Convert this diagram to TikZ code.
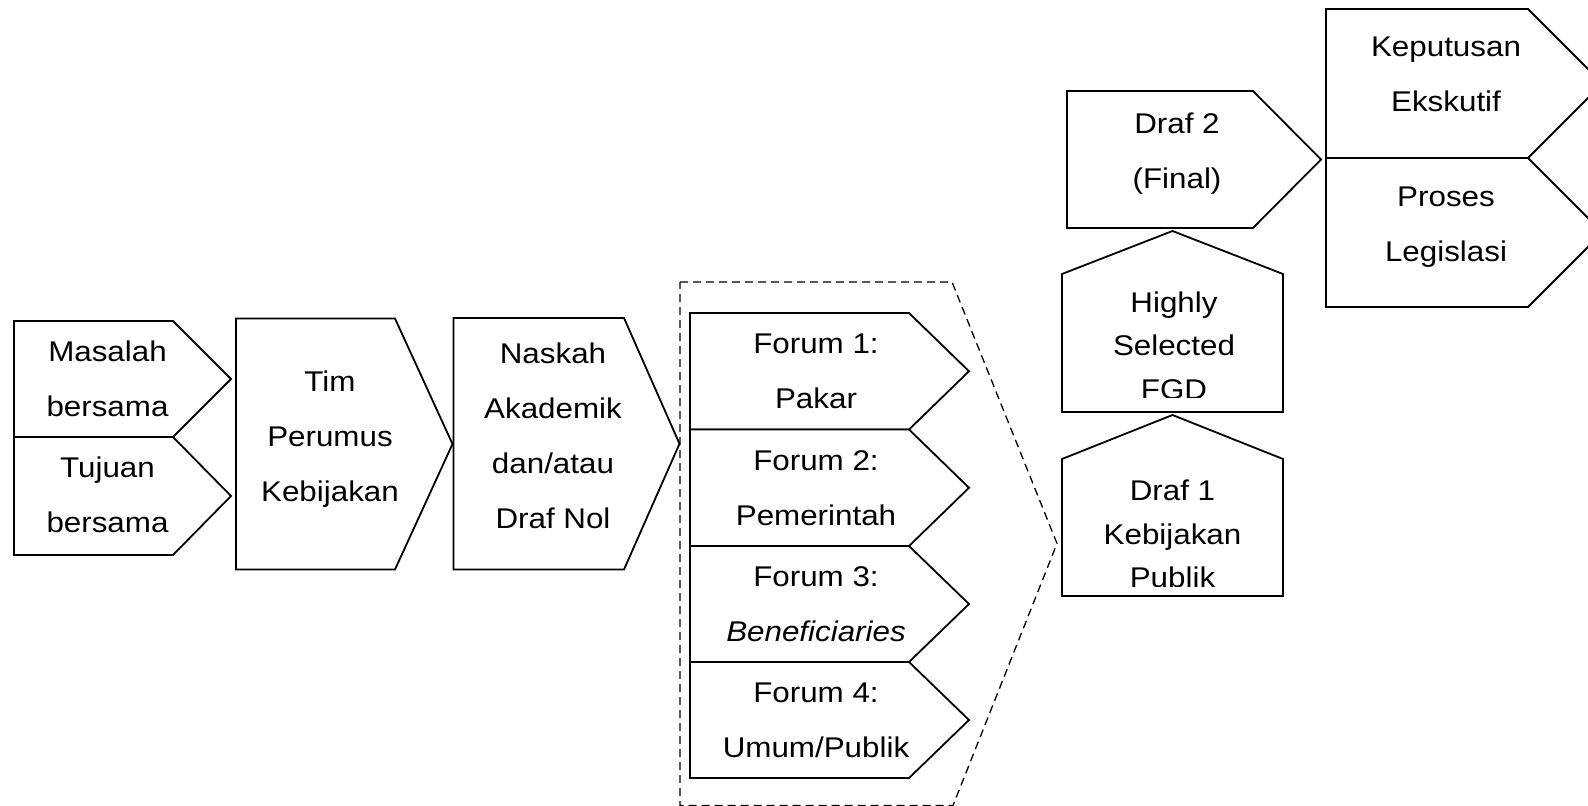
\documentclass[tikz,border=0pt]{standalone}
\usepackage{fontspec}
\setmainfont{Liberation Sans}[FakeStretch=1.1]
\begin{document}
\begin{tikzpicture}[x=1pt,y=-1pt,
  box/.style={draw=black,line width=1.8pt,line join=miter,fill=white},
  frame/.style={draw=black,line width=1.3pt,dash pattern=on 8pt off 5pt},
  txt/.style={align=center,inner sep=0pt,anchor=base,font=\fontsize{28.5}{55}\selectfont},
  txtn/.style={align=center,inner sep=0pt,anchor=base,font=\fontsize{28.5}{43.5}\selectfont}]
\useasboundingbox (0,0) rectangle (1588,806);
\clip (0,0) rectangle (1588,806);

% starting points (text nodes are anchored at the baseline of their last line)
\draw[box] (14,321) -- (173,321) -- (231,379) -- (173,437) -- (14,437) -- cycle;
\draw[box] (14,437) -- (173,437) -- (231,496) -- (173,555) -- (14,555) -- cycle;
\node[txt] (masalah) at (107.5,416.5) {Masalah\\bersama};
\node[txt] (tujuan) at (107.5,532) {Tujuan\\bersama};

% drafting team and academic paper
\draw[box] (236,318.5) -- (395,318.5) -- (452.5,444) -- (395,569.5) -- (236,569.5) -- cycle;
\node[txt] (tim) at (330,501) {Tim\\Perumus\\Kebijakan};
\draw[box] (453.5,318) -- (624,318) -- (679.5,443.75) -- (624,569.5) -- (453.5,569.5) -- cycle;
\node[txt] (naskah) at (553,528.5) {Naskah\\Akademik\\dan/atau\\Draf Nol};

% consultation forums
\draw[frame] (680,282) -- (952,282) -- (1057,543.5) -- (953,805.5) -- (680,805.5) -- cycle;
\foreach \t/\b in {313/429.5, 429.5/546, 546/662, 662/778}{
  \draw[box] (690,\t) -- (909,\t) -- (969,{(\t+\b)/2}) -- (909,\b) -- (690,\b) -- cycle;
}
\node[txt] (forum1) at (816,408.8) {Forum 1:\\Pakar};
\node[txt] (forum2) at (816,525) {Forum 2:\\Pemerintah};
\node[txt] (forum3) at (816,641.7) {Forum 3:\\\itshape Beneficiaries};
\node[txt] (forum4) at (816,757.5) {Forum 4:\\Umum/Publik};

% drafts and selected FGD (text cut off at the inner bottom margin)
\draw[box] (1062,596) -- (1062,459) -- (1172.5,415) -- (1283,459) -- (1283,596) -- cycle;
\begin{scope}
  \clip (1062,415) rectangle (1283,586);
  \node[txtn] (draf1) at (1172.5,587.5) {Draf 1\\Kebijakan\\Publik};
\end{scope}
\draw[box] (1062,412) -- (1062,274) -- (1172.5,231) -- (1283,274) -- (1283,412) -- cycle;
\begin{scope}
  \clip (1062,231) rectangle (1283,397.5);
  \node[txtn] (fgd) at (1174,399) {Highly\\Selected\\FGD};
\end{scope}
\draw[box] (1067,91) -- (1253,91) -- (1321,159.5) -- (1253,228) -- (1067,228) -- cycle;
\node[txt] (draf2) at (1177,188.3) {Draf 2\\(Final)};

% outcomes
\draw[box] (1326,9) -- (1528,9) -- (1602.5,83.5) -- (1528,158) -- (1326,158) -- cycle;
\draw[box] (1326,158) -- (1528,158) -- (1602.5,232.5) -- (1528,307) -- (1326,307) -- cycle;
\node[txt] (keputusan) at (1446,111.7) {Keputusan\\Ekskutif};
\node[txt] (proses) at (1446,261.7) {Proses\\Legislasi};
\end{tikzpicture}
\end{document}
